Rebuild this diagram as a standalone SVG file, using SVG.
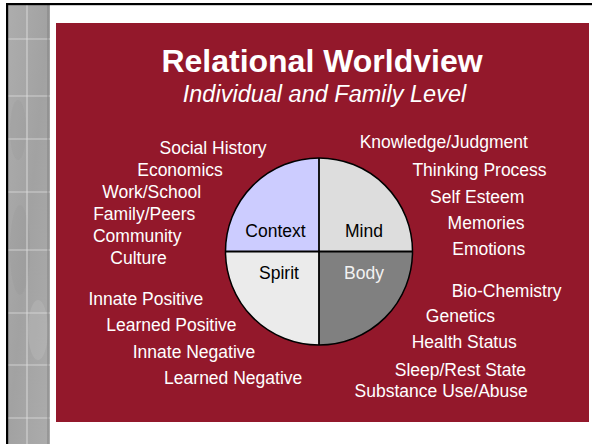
<svg xmlns="http://www.w3.org/2000/svg" width="592" height="444" viewBox="0 0 592 444">
<defs>
<style>
.lbl{font-family:"Liberation Sans",Arial,sans-serif;font-size:17.5px;fill:#ffffff;text-anchor:middle}
.q{font-family:"Liberation Sans",Arial,sans-serif;font-size:17.5px;fill:#000000;text-anchor:middle}
.grid{stroke:#e0e0e0;stroke-width:1.2;opacity:0.75}
</style>
<linearGradient id="strip" x1="0" y1="0" x2="1" y2="1">
<stop offset="0" stop-color="#adadad"/>
<stop offset="0.5" stop-color="#a2a2a2"/>
<stop offset="1" stop-color="#acacac"/>
</linearGradient>
</defs>
<rect width="592" height="444" fill="#ffffff"/>
<g id="strip-bg">
<rect x="8" y="5" width="42" height="439" fill="url(#strip)"/>
<ellipse cx="18" cy="130" rx="8" ry="30" fill="#8e8e8e" opacity="0.15"/>
<ellipse cx="20" cy="250" rx="10" ry="45" fill="#8e8e8e" opacity="0.15"/>
<ellipse cx="38" cy="330" rx="10" ry="30" fill="#d0d0d0" opacity="0.2"/>
<line class="grid" x1="27" y1="5" x2="27" y2="444"/>
<line class="grid" x1="8" y1="39" x2="50" y2="39"/>
<line class="grid" x1="8" y1="96" x2="50" y2="96"/>
<line class="grid" x1="8" y1="139" x2="50" y2="139"/>
<line class="grid" x1="8" y1="192" x2="50" y2="192"/>
<line class="grid" x1="8" y1="250" x2="50" y2="250"/>
<line class="grid" x1="8" y1="313" x2="50" y2="313"/>
<line class="grid" x1="8" y1="365" x2="50" y2="365"/>
<line class="grid" x1="8" y1="418" x2="50" y2="418"/>
<rect x="47" y="5" width="2" height="439" fill="#7a7a7a" opacity="0.4"/>
<rect x="6" y="3" width="586" height="2.2" fill="#000000"/>
<rect x="6" y="3" width="2.2" height="441" fill="#000000"/>
</g>
<rect id="panel" x="56" y="23" width="533" height="399" fill="#93182b"/>
<g id="title">
<text x="322" y="72" style="font-family:'Liberation Sans',Arial,sans-serif;font-size:32px;font-weight:bold;fill:#ffffff;text-anchor:middle">Relational Worldview</text>
<text x="324.5" y="102" style="font-family:'Liberation Sans',Arial,sans-serif;font-size:23.5px;font-style:italic;fill:#ffffff;text-anchor:middle">Individual and Family Level</text>
</g>
<g id="context">
<path d="M319,251.5 L225.5,251.5 A93.5,93.5 0 0 1 319,158 Z" fill="#ccccff"/>
<text class="q" x="275.5" y="237">Context</text>
</g>
<g id="mind">
<path d="M319,251.5 L319,158 A93.5,93.5 0 0 1 412.5,251.5 Z" fill="#dddddd"/>
<text class="q" x="364" y="237">Mind</text>
</g>
<g id="spirit">
<path d="M319,251.5 L319,345 A93.5,93.5 0 0 1 225.5,251.5 Z" fill="#ebebeb"/>
<text class="q" x="279" y="279">Spirit</text>
</g>
<g id="body">
<path d="M319,251.5 L412.5,251.5 A93.5,93.5 0 0 1 319,345 Z" fill="#808080"/>
<text class="q" x="364" y="279" style="fill:#f2f2f2">Body</text>
</g>
<g id="connectors" fill="none" stroke="#000000">
<circle cx="319" cy="251.5" r="93.5" stroke-width="1.5"/>
<line x1="319" y1="158" x2="319" y2="345" stroke-width="1.8"/>
<line x1="225.5" y1="251.5" x2="412.5" y2="251.5" stroke-width="1.8"/>
</g>
<g id="context-items">
<text class="lbl" x="213" y="154">Social History</text>
<text class="lbl" x="180" y="176">Economics</text>
<text class="lbl" x="151.7" y="198">Work/School</text>
<text class="lbl" x="144.2" y="220">Family/Peers</text>
<text class="lbl" x="137.2" y="242">Community</text>
<text class="lbl" x="138.5" y="264">Culture</text>
</g>
<g id="mind-items">
<text class="lbl" x="443.8" y="148.3">Knowledge/Judgment</text>
<text class="lbl" x="479.5" y="175.7">Thinking Process</text>
<text class="lbl" x="477.2" y="202.7">Self Esteem</text>
<text class="lbl" x="486" y="228.7">Memories</text>
<text class="lbl" x="488.7" y="255">Emotions</text>
</g>
<g id="spirit-items">
<text class="lbl" x="145.9" y="305">Innate Positive</text>
<text class="lbl" x="171.4" y="331">Learned Positive</text>
<text class="lbl" x="194" y="358.3">Innate Negative</text>
<text class="lbl" x="233.2" y="384.3">Learned Negative</text>
</g>
<g id="body-items">
<text class="lbl" x="506.6" y="296.7">Bio-Chemistry</text>
<text class="lbl" x="460.4" y="321.7">Genetics</text>
<text class="lbl" x="464.2" y="348.3">Health Status</text>
<text class="lbl" x="460.4" y="376">Sleep/Rest State</text>
<text class="lbl" x="441.2" y="397.3">Substance Use/Abuse</text>
</g>
</svg>
